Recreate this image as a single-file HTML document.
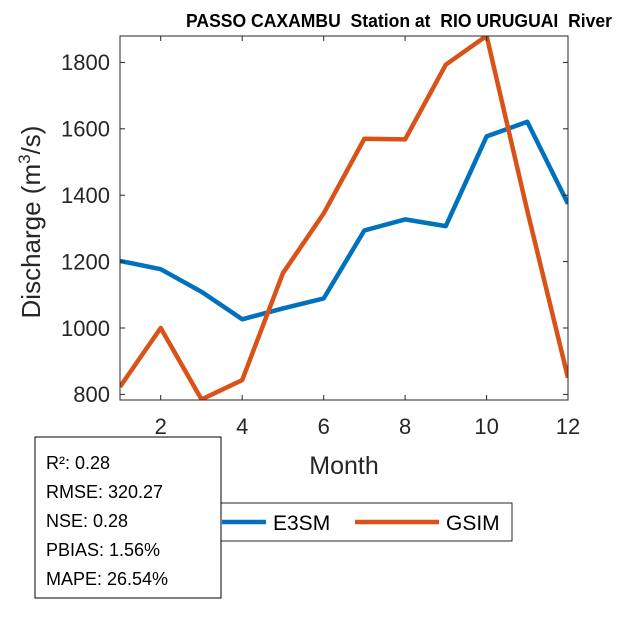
<!DOCTYPE html>
<html><head><meta charset="utf-8"><style>
body{margin:0;background:#fff;}
svg{display:block;font-family:"Liberation Sans",Arial,sans-serif;}
</style></head><body>
<svg width="625" height="625" viewBox="0 0 625 625">
<rect width="625" height="625" fill="#fff"/>
<defs><clipPath id="c"><rect x="120" y="36" width="448" height="364"/></clipPath></defs>
<text x="186" y="27" font-size="18" font-weight="bold" fill="#000" style="white-space:pre" textLength="426" lengthAdjust="spacingAndGlyphs">PASSO CAXAMBU  Station at  RIO URUGUAI  River</text>
<g clip-path="url(#c)" fill="none" stroke-width="4.5" stroke-linejoin="round">
<polyline stroke="#0072BD" points="120,260.9 160.7,269.2 201.5,291.8 242.2,319.3 282.9,308.4 323.7,298.4 364.4,230.4 405.1,219.4 445.8,226.1 486.6,136.4 527.3,121.8 568,203.8"/>
<polyline stroke="#D95319" points="120,386.8 160.7,328.0 201.5,399.4 242.2,380.1 282.9,273.2 323.7,213.4 364.4,138.7 405.1,139.4 445.8,64.7 486.6,35.8 527.3,210.8 568,377.8"/>
</g>
<rect x="120" y="36" width="448" height="364" fill="none" stroke="#262626" stroke-width="1"/>
<g stroke="#262626" stroke-width="1">
<line x1="160.7" y1="400" x2="160.7" y2="395"/><line x1="242.2" y1="400" x2="242.2" y2="395"/><line x1="323.7" y1="400" x2="323.7" y2="395"/><line x1="405.1" y1="400" x2="405.1" y2="395"/><line x1="486.6" y1="400" x2="486.6" y2="395"/>
<line x1="160.7" y1="36" x2="160.7" y2="41"/><line x1="242.2" y1="36" x2="242.2" y2="41"/><line x1="323.7" y1="36" x2="323.7" y2="41"/><line x1="405.1" y1="36" x2="405.1" y2="41"/><line x1="486.6" y1="36" x2="486.6" y2="41"/>
<line x1="120" y1="394.4" x2="125" y2="394.4"/><line x1="120" y1="328" x2="125" y2="328"/><line x1="120" y1="261.6" x2="125" y2="261.6"/><line x1="120" y1="195.2" x2="125" y2="195.2"/><line x1="120" y1="128.8" x2="125" y2="128.8"/><line x1="120" y1="62.4" x2="125" y2="62.4"/>
<line x1="568" y1="394.4" x2="563" y2="394.4"/><line x1="568" y1="328" x2="563" y2="328"/><line x1="568" y1="261.6" x2="563" y2="261.6"/><line x1="568" y1="195.2" x2="563" y2="195.2"/><line x1="568" y1="128.8" x2="563" y2="128.8"/><line x1="568" y1="62.4" x2="563" y2="62.4"/>
</g>
<g font-size="22" fill="#262626" text-anchor="end">
<text x="110" y="402">800</text><text x="110" y="336">1000</text><text x="110" y="269.5">1200</text><text x="110" y="203">1400</text><text x="110" y="136.5">1600</text><text x="110" y="70">1800</text>
</g>
<g font-size="22" fill="#262626" text-anchor="middle">
<text x="160.7" y="434">2</text><text x="242.2" y="434">4</text><text x="323.7" y="434">6</text><text x="405.1" y="434">8</text><text x="486.6" y="434">10</text><text x="568" y="434">12</text>
<text x="344" y="474" font-size="25">Month</text>
</g>
<text transform="translate(40,222) rotate(-90)" text-anchor="middle" font-size="26" fill="#262626">Discharge (m<tspan font-size="17" dy="-10">3</tspan><tspan dy="10">/s)</tspan></text>
<rect x="180" y="503" width="332" height="38" fill="#fff" stroke="#262626" stroke-width="1"/>
<line x1="222" y1="522" x2="266" y2="522" stroke="#0072BD" stroke-width="4.5"/>
<text x="273" y="530" font-size="21" fill="#000">E3SM</text>
<line x1="355" y1="522" x2="439" y2="522" stroke="#D95319" stroke-width="4.5"/>
<text x="446" y="530" font-size="21" fill="#000">GSIM</text>
<rect x="35" y="437" width="186" height="161" fill="#fff" stroke="#000" stroke-width="1"/>
<g font-size="18" fill="#000">
<text x="46" y="469">R²: 0.28</text>
<text x="46" y="498">RMSE: 320.27</text>
<text x="46" y="527">NSE: 0.28</text>
<text x="46" y="556">PBIAS: 1.56%</text>
<text x="46" y="585">MAPE: 26.54%</text>
</g>
</svg>
</body></html>
